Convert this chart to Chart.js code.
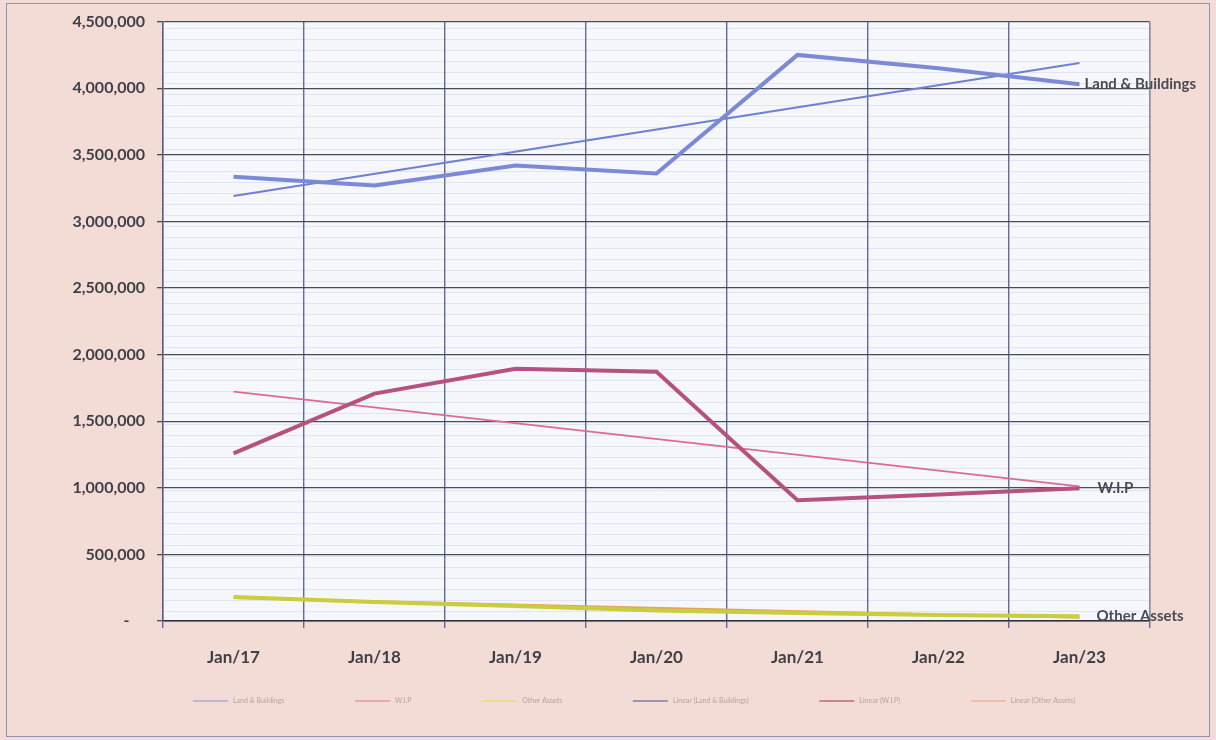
<!DOCTYPE html>
<html>
<head>
<meta charset="utf-8">
<script src="https://cdn.jsdelivr.net/npm/chart.js@4/dist/chart.umd.min.js"></script>
<style>
  html, body { margin: 0; padding: 0; background: #f2dcd5; }
  #wrap { width: 1216px; height: 740px; }
</style>
</head>
<body>
<div id="wrap"><canvas id="chart"></canvas></div>
<script>
const months = ["Jan/17", "Jan/18", "Jan/19", "Jan/20", "Jan/21", "Jan/22", "Jan/23"];

const landBuildings = [3335000, 3270000, 3420000, 3360000, 4250000, 4150000, 4030000];
const wip = [1258000, 1707000, 1894000, 1872000, 906000, 950000, 996000];
const otherAssets = [180000, 142000, 112000, 78000, 60000, 45000, 35000];

// trend lines: only the two ends are read, the line is spanned between them
const trendLand = [3190000, null, null, null, null, null, 4190000];
const trendWip = [1722000, null, null, null, null, null, 1010000];
const trendOther = [172000, null, null, null, null, null, 25000];

const seriesNames = ["Land & Buildings", "W.I.P", "Other Assets"];
const legendNames = [
  "Land & Buildings",
  "W.I.P",
  "Other Assets",
  "Linear (Land & Buildings)",
  "Linear (W.I.P)",
  "Linear (Other Assets)",
];

const yMax = 4500000;
const yStep = 500000;

const FONT = "Lato, 'Open Sans', sans-serif";

const paper = {
  id: "paper",
  beforeDraw(chart) {
    const { ctx, chartArea: a, width, height } = chart;
    ctx.save();
    ctx.fillStyle = "#f2dcd5";
    ctx.fillRect(0, 0, width, height);
    ctx.fillStyle = "#f5f7fb";
    ctx.fillRect(a.left, a.top, a.right - a.left, a.bottom - a.top);
    // faint ruled lines of the scanned sheet
    ctx.strokeStyle = "rgba(165,182,225,0.28)";
    ctx.lineWidth = 1;
    for (let y = a.top + 6; y < a.bottom; y += 11) {
      ctx.beginPath();
      ctx.moveTo(a.left, Math.round(y) + 0.5);
      ctx.lineTo(a.right, Math.round(y) + 0.5);
      ctx.stroke();
    }
    ctx.strokeStyle = "#8f93b8";
    ctx.strokeRect(6.5, 3.5, width - 13, height - 7);
    ctx.restore();
  },
};

const endLabels = {
  id: "endLabels",
  afterDatasetsDraw(chart) {
    const { ctx } = chart;
    const offsets = [5, 18, 17];
    ctx.save();
    ctx.font = "bold 15px " + FONT;
    ctx.fillStyle = "#4a4a54";
    ctx.textBaseline = "middle";
    seriesNames.forEach((name, i) => {
      const meta = chart.getDatasetMeta(i);
      const pt = meta.data[meta.data.length - 1];
      ctx.fillText(name, pt.x + offsets[i], pt.y);
    });
    ctx.restore();
  },
};

const legendRow = {
  id: "legendRow",
  afterDraw(chart) {
    const { ctx } = chart;
    const sets = chart.data.datasets;
    ctx.save();
    ctx.font = "7px " + FONT;
    ctx.textBaseline = "middle";
    const lineLen = 35;
    const gap = 5;
    const widths = sets.map((ds) => lineLen + gap + ctx.measureText(ds.label).width);
    const span = 882;
    const total = widths.reduce((s, w) => s + w, 0);
    const space = (span - total) / (sets.length - 1);
    let x = 634 - span / 2;
    const y = 701;
    sets.forEach((ds, i) => {
      ctx.strokeStyle = ds.legendColor;
      ctx.lineWidth = 1.5;
      ctx.beginPath();
      ctx.moveTo(x, y);
      ctx.lineTo(x + lineLen, y);
      ctx.stroke();
      ctx.fillStyle = "#bb9f9c";
      ctx.fillText(ds.label, x + lineLen + gap, y);
      x += widths[i] + space;
    });
    ctx.restore();
  },
};

function line(label, data, color, width, legendColor) {
  return {
    label,
    data,
    borderColor: color,
    backgroundColor: color,
    borderWidth: width,
    pointRadius: 0,
    tension: 0,
    spanGaps: true,
    legendColor,
  };
}

new Chart(document.getElementById("chart"), {
  type: "line",
  data: {
    labels: months,
    datasets: [
      line(legendNames[0], landBuildings, "#7c89d6", 4, "rgba(130,135,215,0.6)"),
      line(legendNames[1], wip, "#b5527f", 4, "rgba(225,105,135,0.6)"),
      line(legendNames[2], otherAssets, "#c9cd3e", 4, "rgba(230,222,80,0.7)"),
      line(legendNames[3], trendLand, "#6f7fd2", 2, "rgba(80,80,160,0.7)"),
      line(legendNames[4], trendWip, "#db6b95", 1.8, "rgba(180,50,80,0.7)"),
      line(legendNames[5], trendOther, "#e9a05a", 2, "rgba(240,160,130,0.7)"),
    ],
  },
  options: {
    responsive: true,
    maintainAspectRatio: false,
    animation: false,
    devicePixelRatio: 1,
    layout: { padding: { left: 8, right: 8, top: 11, bottom: 60 } },
    plugins: {
      legend: { display: false },
      tooltip: { enabled: false },
    },
    scales: {
      x: {
        offset: true,
        grid: {
          offset: true,
          color: "#636a98",
          lineWidth: 1.4,
          tickLength: 7,
        },
        border: { color: "#2f323c", width: 1.6 },
        ticks: {
          font: { family: FONT, size: 17, weight: "bold" },
          color: "#3f3f48",
          padding: 19,
        },
        afterFit(scale) {
          scale.height = 59;
        },
      },
      y: {
        min: 0,
        max: yMax,
        grid: {
          color: "#474b5a",
          lineWidth: 1.3,
          tickLength: 6,
        },
        border: { color: "#5a5e78", width: 1.4 },
        ticks: {
          stepSize: yStep,
          font: { family: FONT, size: 16, weight: "bold" },
          color: "#3f3f48",
          padding: 12,
          callback: (v) => (v === 0 ? "-    " : v.toLocaleString("en-US")),
        },
        afterFit(scale) {
          scale.width = 155;
        },
      },
      y2: {
        position: "right",
        min: 0,
        max: yMax,
        grid: { drawOnChartArea: false, drawTicks: false },
        border: { color: "#8a8a98", width: 1.2, dash: [2, 2] },
        ticks: { display: false },
        afterFit(scale) {
          scale.width = 58;
        },
      },
    },
  },
  plugins: [paper, endLabels, legendRow],
});
</script>
</body>
</html>
